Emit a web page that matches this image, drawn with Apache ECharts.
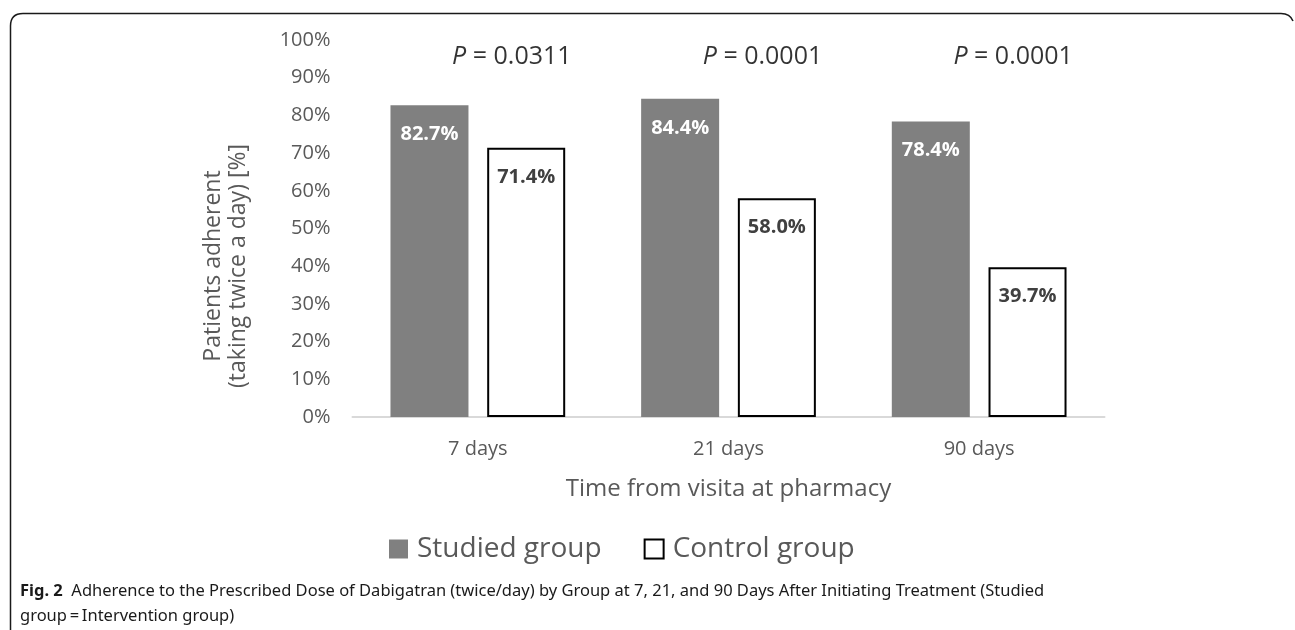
<!DOCTYPE html>
<html>
<head>
<meta charset="utf-8">
<script src="https://cdn.jsdelivr.net/npm/echarts@6/dist/echarts.min.js"></script>
<style>
  html, body { margin: 0; padding: 0; background: #fff; }
  #chart { width: 1295px; height: 630px; }
</style>
</head>
<body>
<div id="chart"></div>
<script>
// Adherence (%) by time since the pharmacy visit
const categories = ['7 days', '21 days', '90 days'];
const studiedGroup = [82.7, 84.4, 78.4];
const controlGroup = [71.4, 58.0, 39.7];
const pValues = ['0.0311', '0.0001', '0.0001'];
const pLabelLevel = [95.5, 95.5, 95.5];
const yTicks = { min: 0, max: 100, step: 10 };

const FONT = '"Open Sans", "Noto Sans", sans-serif';
const CAPTION_FONT = '"Liberation Sans Narrow", "Noto Sans", sans-serif';
const GREY_TEXT = '#595959';
const FRAME = { stroke: '#1a1a1a', lineWidth: 1.5, fill: 'none' };

const chart = echarts.init(document.getElementById('chart'), null, { renderer: 'canvas' });

chart.setOption({
  animation: false,
  backgroundColor: '#ffffff',
  textStyle: { fontFamily: FONT },
  grid: { left: 352.5, top: 40, width: 752, height: 377, containLabel: false },
  legend: {
    data: ['Studied group', 'Control group'],
    left: 384,
    top: 530,
    icon: 'rect',
    itemWidth: 19,
    itemHeight: 19,
    itemGap: 42,
    textStyle: { fontSize: 28, color: GREY_TEXT, fontFamily: FONT, padding: [0, 0, 0, 4] }
  },
  xAxis: {
    type: 'category',
    data: categories,
    axisLine: { show: true, lineStyle: { color: '#d9d9d9', width: 2 } },
    axisTick: { show: false },
    axisLabel: { color: GREY_TEXT, fontSize: 20, margin: 22, fontFamily: FONT },
    name: 'Time from visita at pharmacy',
    nameLocation: 'middle',
    nameGap: 60,
    nameTextStyle: { color: GREY_TEXT, fontSize: 24, fontFamily: FONT }
  },
  yAxis: {
    type: 'value',
    min: yTicks.min,
    max: yTicks.max,
    interval: yTicks.step,
    axisLine: { show: false },
    axisTick: { show: false },
    splitLine: { show: false },
    axisLabel: { formatter: '{value}%', color: GREY_TEXT, fontSize: 20, margin: 22, fontFamily: FONT }
  },
  series: [
    {
      name: 'Studied group',
      type: 'bar',
      data: studiedGroup,
      barWidth: 78,
      barGap: '24%',
      itemStyle: { color: '#808080' },
      label: {
        show: true,
        position: 'insideTop',
        distance: 19,
        formatter: p => p.value.toFixed(1) + '%',
        color: '#ffffff',
        fontWeight: 'bold',
        fontSize: 20,
        fontFamily: FONT
      }
    },
    {
      name: 'Control group',
      type: 'bar',
      data: controlGroup,
      barWidth: 78,
      itemStyle: { color: '#ffffff', borderColor: '#000000', borderWidth: 2 },
      label: {
        show: true,
        position: 'insideTop',
        distance: 19,
        formatter: p => p.value.toFixed(1) + '%',
        color: '#404040',
        fontWeight: 'bold',
        fontSize: 20,
        fontFamily: FONT
      }
    },
    {
      name: 'P values',
      type: 'scatter',
      data: pLabelLevel,
      symbolSize: 0,
      silent: true,
      label: {
        show: true,
        position: 'inside',
        offset: [34, 0],
        formatter: p => '{i|P} = ' + pValues[p.dataIndex],
        color: '#000000',
        fontSize: 25,
        fontFamily: FONT,
        rich: {
          i: { fontStyle: 'italic', fontSize: 25, color: '#000000', fontFamily: FONT }
        }
      }
    }
  ],
  graphic: [
    // frame: left edge, top edge and rounded corners
    { type: 'line', silent: true, shape: { x1: 10.5, y1: 630, x2: 10.5, y2: 26 }, style: FRAME },
    { type: 'bezierCurve', silent: true, shape: { x1: 10.5, y1: 26, x2: 23, y2: 13.5, cpx1: 10.5, cpy1: 13.5 }, style: FRAME },
    { type: 'line', silent: true, shape: { x1: 23, y1: 13.5, x2: 1281, y2: 13.5 }, style: FRAME },
    { type: 'bezierCurve', silent: true, shape: { x1: 1281, y1: 13.5, x2: 1293, y2: 21, cpx1: 1290, cpy1: 13.5 }, style: FRAME },
    {
      type: 'text',
      x: 226,
      y: 266,
      rotation: Math.PI / 2,
      style: {
        text: 'Patients adherent\n(taking twice a day) [%]',
        align: 'center',
        verticalAlign: 'middle',
        fill: GREY_TEXT,
        fontSize: 23,
        lineHeight: 25,
        fontFamily: FONT
      },
      silent: true
    },
    {
      type: 'text',
      x: 20,
      y: 591,
      style: {
        text: '{b|Fig. 2}  Adherence to the Prescribed Dose of Dabigatran (twice/day) by Group at 7, 21, and 90 Days After Initiating Treatment (Studied',
        verticalAlign: 'middle',
        fill: '#1a1a1a',
        fontSize: 16.5,
        fontFamily: CAPTION_FONT,
        rich: {
          b: { fontWeight: 'bold', fontSize: 16.5, fill: '#1a1a1a', fontFamily: CAPTION_FONT }
        }
      },
      silent: true
    },
    {
      type: 'text',
      x: 20,
      y: 616,
      style: {
        text: 'group\u2009=\u2009Intervention group)',
        verticalAlign: 'middle',
        fill: '#1a1a1a',
        fontSize: 16.5,
        fontFamily: CAPTION_FONT
      },
      silent: true
    }
  ]
});
</script>
</body>
</html>
